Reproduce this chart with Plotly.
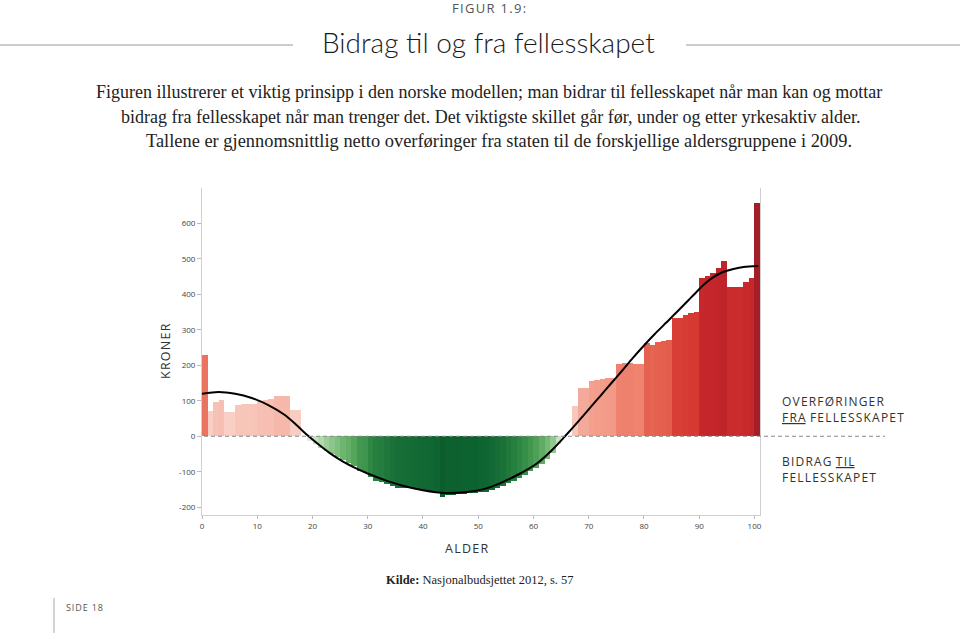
import plotly.graph_objects as go

# ---------------- data ----------------
AGES = list(range(0, 101))
NET_TRANSFER = [
    230, 71, 96, 102, 68, 68, 89, 90, 90, 91,          # 0-9
    100, 102, 104, 113, 113, 113, 73, 73, 0, -13,      # 10-19
    -22, -32, -42, -50, -58, -68, -74, -84, -98, -101, # 20-29
    -116, -126, -128, -134, -140, -145, -146, -147, -150, -152,  # 30-39
    -153, -155, -158, -172, -165, -165, -164, -162, -161, -160,  # 40-49
    -158, -156, -152, -146, -140, -133, -125, -117, -108, -99,   # 50-59
    -89, -77, -63, -48, -22, 0, 0, 85, 136, 137,       # 60-69
    155, 160, 162, 163, 164, 205, 207, 207, 204, 204,  # 70-79
    263, 258, 266, 268, 271, 333, 333, 342, 348, 351,  # 80-89
    445, 451, 459, 475, 493, 420, 421, 422, 436, 447,  # 90-99
    657,                                               # 100
]
CURVE_AGE = [0, 3, 6, 9, 12, 15, 17, 19, 21, 23, 25.6, 28, 30, 33, 36, 40, 44,
             48, 51, 54, 57.6, 60.6, 63.6, 65.7, 68, 70, 72, 74, 76, 78, 80, 82,
             84, 86, 88, 89.5, 91, 92.5, 94, 96, 98, 100.7]
CURVE_VAL = [120, 125, 120, 108, 88, 60, 33, 4, -22, -46, -72, -91, -105, -123,
             -138, -152, -160, -157, -149, -132, -105, -77, -35, 0, 40, 76, 112,
             148, 184, 221, 256, 289, 320, 351, 383, 407, 430, 448, 461, 471,
             477, 480]
X_TICKS = [0, 10, 20, 30, 40, 50, 60, 70, 80, 90, 100]
Y_TICKS = [-200, -100, 0, 100, 200, 300, 400, 500, 600]

# ---------------- geometry helpers (layout only) ----------------
L, R, T, B = 202, 760, 188, 515
W, H = 960, 633


def px(x):
    return (x - L) / (R - L)


def py(y):
    return (B - y) / (B - T)


HS = "\u200a"


def spaced(s):
    return HS.join(list(s))


colorscale = [
    [0.0, "#0a5a28"],
    [0.0238, "#0d6330"],
    [0.0476, "#1a7238"],
    [0.0833, "#348c46"],
    [0.119, "#5aa95e"],
    [0.155, "#8cc68a"],
    [0.1845, "#bfe0ba"],
    [0.2048, "#e6f3e3"],
    [0.2142, "#f4faf3"],
    [0.2144, "#fde3dc"],
    [0.2857, "#fbd3ca"],
    [0.3333, "#f7c0b4"],
    [0.381, "#f4a897"],
    [0.4167, "#f29784"],
    [0.4643, "#ee7f6c"],
    [0.5357, "#e45e4c"],
    [0.619, "#d73b32"],
    [0.75, "#c5262b"],
    [1.0, "#a51d27"],
]

fig = go.Figure()
fig.add_trace(go.Bar(
    x=[a + 0.5 for a in AGES], y=NET_TRANSFER, width=1.0,
    marker=dict(color=NET_TRANSFER, colorscale=colorscale, cmin=-180, cmax=660,
                line=dict(width=0)),
    hoverinfo="skip", showlegend=False,
))
fig.add_trace(go.Scatter(
    x=CURVE_AGE, y=CURVE_VAL, mode="lines",
    line=dict(color="black", width=2, shape="spline", smoothing=0.8),
    hoverinfo="skip", showlegend=False, cliponaxis=False,
))

sans = "Open Sans, Lato, sans-serif"
serif = "Liberation Serif, Times New Roman, serif"

annotations = []


def note(text, x, y, size, family=sans, color="#333", xanchor="center",
         yanchor="middle", angle=0, weight=None):
    f = dict(size=size, family=family, color=color)
    if weight:
        f["weight"] = weight
    annotations.append(dict(
        text=text, x=px(x), y=py(y), xref="paper", yref="paper",
        xanchor=xanchor, yanchor=yanchor, showarrow=False, font=f,
        textangle=angle,
    ))


note(spaced("FIGUR 1.9:"), 489, 8, 13, color="#555")
note("Bidrag til og fra fellesskapet", 488, 42, 28, family="Lato, Open Sans, sans-serif",
     color="#1a1a1a", weight=300)
note("Figuren illustrerer et viktig prinsipp i den norske modellen; man bidrar til "
     "fellesskapet når man kan og mottar", 489, 92, 18, family=serif, color="#222")
note("bidrag fra fellesskapet når man trenger det. Det viktigste skillet går før, "
     "under og etter yrkesaktiv alder.", 491, 117, 18, family=serif, color="#222")
note("Tallene er gjennomsnittlig netto overføringer fra staten til de forskjellige "
     "aldersgruppene i 2009.", 499, 141, 18.4, family=serif, color="#222")
note(spaced("KRONER"), 165, 351, 12.5, angle=-90, color="#333")
note(spaced("ALDER"), 466, 548, 12.5, color="#333")
note(spaced("OVERFØRINGER"), 780, 401, 12, xanchor="left", color="#333")
note("<u>" + spaced("FRA") + "</u>" + HS + " " + spaced("FELLESSKAPET"), 780, 417, 12,
     xanchor="left", color="#333")
note(spaced("BIDRAG") + HS + " <u>" + spaced("TIL") + "</u>", 780, 461, 12,
     xanchor="left", color="#333")
note(spaced("FELLESSKAPET"), 780, 477, 12, xanchor="left", color="#333")
note("<b>Kilde:</b> Nasjonalbudsjettet 2012, s. 57", 480, 580, 12.5, family=serif,
     color="#222")
note(spaced("SIDE 18"), 64, 607, 9, xanchor="left", color="#555")

shapes = [
    dict(type="line", xref="paper", yref="y", x0=px(204), x1=px(885), y0=0, y1=0,
         line=dict(color="#888", width=1, dash="4px,3px"), layer="above"),
    dict(type="line", xref="paper", yref="paper", x0=px(0), x1=px(293),
         y0=py(45), y1=py(45), line=dict(color="#9a9a9a", width=1.2)),
    dict(type="line", xref="paper", yref="paper", x0=px(686), x1=px(960),
         y0=py(45), y1=py(45), line=dict(color="#9a9a9a", width=1.2)),
    dict(type="line", xref="paper", yref="paper", x0=px(54), x1=px(54),
         y0=py(598), y1=py(633), line=dict(color="#aaa", width=1)),
]

fig.update_layout(
    width=W, height=H,
    margin=dict(l=L, r=W - R, t=T, b=H - B, pad=0),
    paper_bgcolor="white", plot_bgcolor="white",
    bargap=0,
    xaxis=dict(range=[0, 101], tickvals=X_TICKS, ticktext=[str(t) for t in X_TICKS],
               showgrid=False, zeroline=False, showline=True, linecolor="#cfcfcf",
               linewidth=1, ticks="outside", ticklen=3, tickcolor="#bbb",
               tickfont=dict(size=8, family=sans, color="#444"), fixedrange=True),
    yaxis=dict(range=[-222, 700], tickvals=Y_TICKS, ticktext=[str(t) for t in Y_TICKS],
               showgrid=False, zeroline=False, showline=True, linecolor="#cfcfcf",
               linewidth=1, mirror=True, ticks="outside", ticklen=4, tickcolor="#bbb",
               tickfont=dict(size=8, family=sans, color="#444"), fixedrange=True),
    annotations=annotations,
    shapes=shapes,
    showlegend=False,
)

fig.write_html("out.html")
